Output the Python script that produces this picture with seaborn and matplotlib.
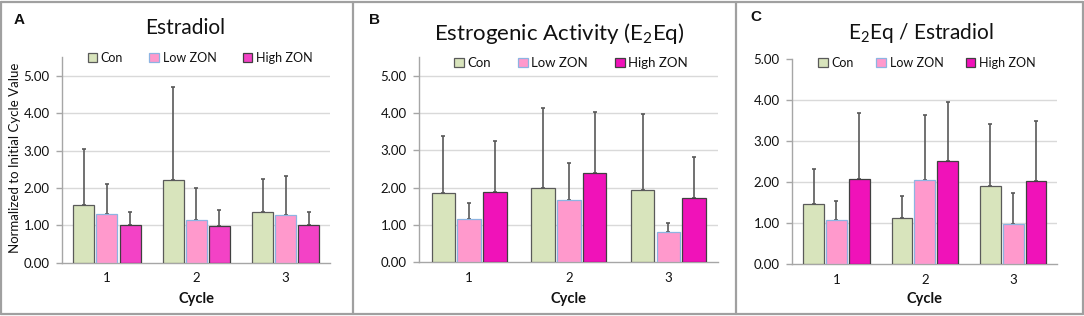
import numpy as np
import pandas as pd
import matplotlib
matplotlib.use("Agg")
import matplotlib.pyplot as plt
from matplotlib.lines import Line2D
import seaborn as sns

# ---------------- data ----------------
cycles = ["1", "2", "3"]
groups = ["Con", "Low ZON", "High ZON"]

# Panel A: Estradiol
a_con = [1.55, 2.21, 1.35]
a_low = [1.29, 1.13, 1.27]
a_high = [1.01, 0.98, 1.01]
a_con_sd = [1.50, 2.48, 0.88]
a_low_sd = [0.82, 0.86, 1.05]
a_high_sd = [0.34, 0.43, 0.35]

# Panel B: Estrogenic Activity
b_con = [1.85, 2.00, 1.94]
b_low = [1.17, 1.66, 0.80]
b_high = [1.89, 2.39, 1.73]
b_con_sd = [1.53, 2.13, 2.04]
b_low_sd = [0.41, 1.01, 0.24]
b_high_sd = [1.37, 1.63, 1.08]

# Panel C: E2Eq / Estradiol
c_con = [1.47, 1.13, 1.91]
c_low = [1.09, 2.05, 0.99]
c_high = [2.08, 2.51, 2.03]
c_con_sd = [0.85, 0.54, 1.51]
c_low_sd = [0.44, 1.58, 0.74]
c_high_sd = [1.59, 1.43, 1.45]

yticks_labels = ["0.00", "1.00", "2.00", "3.00", "4.00", "5.00"]

# ---------------- style ----------------
sns.set_style("white")
plt.rcParams["font.family"] = ["Lato", "DejaVu Sans"]
plt.rcParams["mathtext.fontset"] = "custom"
plt.rcParams["mathtext.rm"] = "Lato"
plt.rcParams["mathtext.it"] = "Lato:italic"
plt.rcParams["mathtext.bf"] = "Lato:bold"

TXT = "#111111"
AXC = "#a6a6a6"
GRID = "#d9d9d9"
ERR = "#595959"

fig = plt.figure(figsize=(10.84, 3.16), dpi=100)
W, H = 1084.0, 316.0


def fx(px):
    return px / W


def fy(py):
    return 1 - py / H


panels = [
    dict(means=[a_con, a_low, a_high], sds=[a_con_sd, a_low_sd, a_high_sd],
         box=(62.3, 330.3, 262.7, 57.0), ymax=5.5, grid=[1, 2, 3, 4, 5],
         high="#f342c6", title="Estradiol", tpos=(185, 28), tsize=15,
         letter="A", lpos=(19.5, 20), legc=(200, 58), legfs=9.0, colsp=2.1),
    dict(means=[b_con, b_low, b_high], sds=[b_con_sd, b_low_sd, b_high_sd],
         box=(419.3, 718.3, 262.3, 57.0), ymax=5.5, grid=[1, 2, 3, 4, 5],
         high="#f012b9", title=r"Estrogenic Activity (E$_{2}$Eq)", tpos=(559, 33), tsize=16,
         letter="B", lpos=(374, 20), legc=(571, 63), legfs=9.5, colsp=2.0),
    dict(means=[c_con, c_low, c_high], sds=[c_con_sd, c_low_sd, c_high_sd],
         box=(792.3, 1057.3, 264.3, 58.8), ymax=5.0, grid=[1, 2, 3, 4],
         high="#f012b9", title=r"E$_{2}$Eq / Estradiol", tpos=(921, 33), tsize=15,
         letter="C", lpos=(756, 17), legc=(927, 63), legfs=9.0, colsp=1.8),
]

edges = {"Con": "#5a5a5a", "Low ZON": "#8db4e2", "High ZON": "#404040"}

for p in panels:
    x0, x1, yb, yt = p["box"]
    ax = fig.add_axes([fx(x0), fy(yb), (x1 - x0) / W, (yb - yt) / H])

    rows = []
    for g, vals in zip(groups, p["means"]):
        for c, v in zip(cycles, vals):
            rows.append(dict(Cycle=c, Group=g, Value=v))
    df = pd.DataFrame(rows)

    palette = {"Con": "#d8e4bc", "Low ZON": "#ff99cc", "High ZON": p["high"]}
    sns.barplot(data=df, x="Cycle", y="Value", hue="Group", order=cycles,
                hue_order=groups, palette=palette, errorbar=None,
                width=0.775, gap=0.09, saturation=1, ax=ax, zorder=3)

    # error bars (upper only) located at the bars seaborn drew
    for gi, (cont, g) in enumerate(zip(ax.containers, groups)):
        xs, tops = [], []
        for bar in cont:
            bar.set_edgecolor(edges[g])
            bar.set_linewidth(0.9)
            xs.append(bar.get_x() + bar.get_width() / 2)
            tops.append(bar.get_height())
        sd = np.array(p["sds"][gi])
        ax.errorbar(xs, tops, yerr=[np.zeros_like(sd), sd], fmt="none",
                    ecolor=ERR, elinewidth=1.2, capsize=1.6, capthick=1.2,
                    zorder=2)

    ax.set_ylim(0, p["ymax"])
    ax.set_xlim(-0.5, 2.5)
    ax.set_yticks(range(6))
    ax.set_yticklabels(yticks_labels)
    for gv in p["grid"]:
        ax.axhline(gv, color=GRID, lw=1.0, zorder=0)

    for s in ["top", "right"]:
        ax.spines[s].set_visible(False)
    for s in ["left", "bottom"]:
        ax.spines[s].set_color(AXC)
        ax.spines[s].set_linewidth(1.0)

    ax.set_xticks([-0.5, 0.5, 1.5, 2.5], minor=True)
    ax.tick_params(axis="x", which="minor", length=4, width=1.0, color=AXC, direction="out")
    ax.tick_params(axis="x", which="major", length=0, pad=7, labelsize=9.5, labelcolor=TXT)
    ax.tick_params(axis="y", which="major", length=4, width=1.0, color=AXC,
                   direction="out", pad=5, labelsize=9.5, labelcolor=TXT, left=True)
    ax.set_xlabel("")
    ax.set_ylabel("")

    # legend
    handles, labels = ax.get_legend_handles_labels()
    leg = ax.legend(handles, labels, loc="center", ncol=3, frameon=False,
                    bbox_to_anchor=(fx(p["legc"][0]), fy(p["legc"][1])),
                    bbox_transform=fig.transFigure, fontsize=p["legfs"],
                    handlelength=0.75, handleheight=0.75, handletextpad=0.3,
                    columnspacing=p["colsp"], borderaxespad=0, borderpad=0)
    for t in leg.get_texts():
        t.set_color(TXT)
    for h, g in zip(leg.legend_handles, groups):
        h.set_edgecolor(edges[g])
        h.set_linewidth(0.9)

    # titles, letters, axis label
    fig.text(fx(p["tpos"][0]), fy(p["tpos"][1]), p["title"], ha="center", va="center",
             fontsize=p["tsize"], color=TXT)
    fig.text(fx(p["lpos"][0]), fy(p["lpos"][1]), p["letter"], ha="center", va="center",
             fontsize=11, fontweight="bold", color="#111111", family=["Liberation Sans"])
    fig.text(fx((x0 + x1) / 2), fy(299), "Cycle", ha="center", va="center",
             fontsize=10.5, fontweight="bold", color=TXT)

fig.text(fx(15), fy(158), "Normalized to Initial Cycle Value", rotation=90,
         ha="center", va="center", fontsize=9.5, color=TXT)

# panel borders
BC = "#a0a0a0"
lw = 1.6
for (xa, ya, xb, yb2) in [(1, 2, 1083, 2), (1, 314, 1083, 314), (1, 2, 1, 314),
                          (1083, 2, 1083, 314), (352.5, 2, 352.5, 314), (736, 2, 736, 314)]:
    fig.add_artist(Line2D([fx(xa), fx(xb)], [fy(ya), fy(yb2)], color=BC, lw=lw,
                          transform=fig.transFigure))

fig.savefig("out.png", dpi=100)
